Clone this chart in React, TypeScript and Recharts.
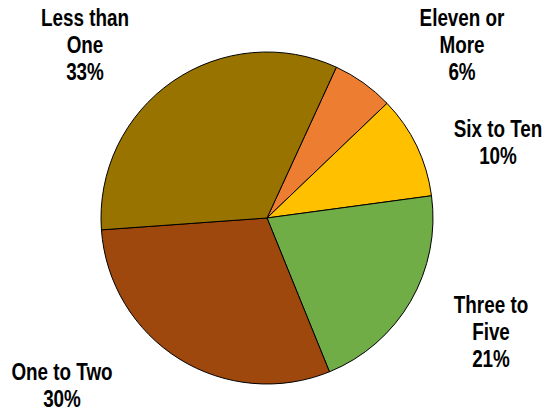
import { PieChart, Pie, Cell } from "recharts"

const categories = ["Eleven or More", "Six to Ten", "Three to Five", "One to Two", "Less than One"]
const shares = [6, 10, 21, 30, 33]
const labelLines = [["Eleven or", "More"], ["Six to Ten"], ["Three to", "Five"], ["One to Two"], ["Less than", "One"]]
const colors = ["#ED7D31", "#FFC000", "#70AD47", "#9E480E", "#997300"]

const data = categories.map((name, i) => ({ name, value: shares[i] }))

// where each label's first baseline sits, relative to the pie centre
const labelOffsets = [
  { dx: 195, dy: -192 },
  { dx: 231, dy: -81 },
  { dx: 224, dy: 95 },
  { dx: -205, dy: 162 },
  { dx: -182, dy: -192 },
]

const LINE_H = 27

function renderLabel(props: any) {
  const { cx, cy, index, value } = props
  const off = labelOffsets[index]
  const lines = [...labelLines[index], `${value}%`]
  // no narrow font installed, so squeeze Liberation Sans Bold horizontally
  return (
    <g transform={`translate(${cx + off.dx},${cy + off.dy}) scale(0.82,1)`}>
      <text
        x={0}
        y={0}
        textAnchor="middle"
        fill="#000"
        style={{ fontFamily: "'Liberation Sans', Arial, sans-serif", fontWeight: 700, fontSize: 23 }}
      >
        {lines.map((l, i) => (
          <tspan key={i} x={0} dy={i === 0 ? 0 : LINE_H}>
            {l}
          </tspan>
        ))}
      </text>
    </g>
  )
}

export default function App() {
  return (
    <div style={{ position: "absolute", left: 0, top: 0, width: 548, height: 410, background: "#fff" }}>
      <PieChart width={548} height={410} margin={{ top: 0, right: 0, bottom: 0, left: 0 }}>
        <Pie
          data={data}
          dataKey="value"
          nameKey="name"
          cx={267}
          cy={218}
          outerRadius={166}
          startAngle={65.3}
          endAngle={-294.7}
          stroke="#000"
          strokeWidth={1}
          labelLine={false}
          label={renderLabel}
          isAnimationActive={false}
        >
          {data.map((d, i) => (
            <Cell key={d.name} fill={colors[i]} />
          ))}
        </Pie>
      </PieChart>
    </div>
  )
}
